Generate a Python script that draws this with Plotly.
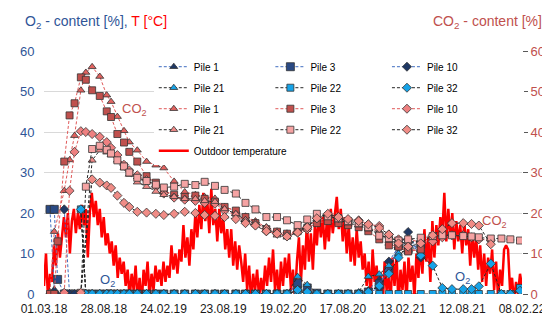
import plotly.graph_objects as go
import pandas as pd

N = None

# ---------------- data ----------------
sample_dates = [
    "2018-03-19", "2018-04-01", "2018-04-11", "2018-05-01", "2018-05-17", "2018-06-01", "2018-06-20", "2018-07-05", "2018-07-24", "2018-08-16",
    "2018-09-06", "2018-09-19", "2018-10-08", "2018-10-28", "2018-11-13", "2018-12-07", "2019-01-04", "2019-02-01", "2019-02-25", "2019-03-28",
    "2019-04-29", "2019-05-31", "2019-06-28", "2019-07-29", "2019-08-27", "2019-09-30", "2019-10-29", "2019-11-28", "2019-12-31", "2020-02-01",
    "2020-03-02", "2020-04-03", "2020-05-02", "2020-05-31", "2020-07-03", "2020-08-04", "2020-09-02", "2020-10-04", "2020-11-02", "2020-12-05",
    "2021-01-03", "2021-02-01", "2021-03-02", "2021-04-09", "2021-05-15", "2021-06-13", "2021-07-12", "2021-08-15", "2021-09-09", "2021-10-01",
    "2021-11-06", "2021-12-08", "2022-01-04", "2022-02-02",
]

o2_pile1 = [20.9, 1.1, 0, 0, 0, 0, 0, 0, 0, 0,
            0, 0, 0, 0, 0, 0, 0, 0, 0, 0,
            0, 0, 0, 0, 0, 0, 0, 0, 0, 0,
            0, 2.0, 0.8, 0, 0, 0, 0, 0.3, 1.0, 3.6,
            6.5, 11.5, 13.0, 10.0, N, N, N, N, N, N,
            N, N, N, N]
o2_pile3 = [20.9, 20.9, 3.6, 0, 0, 0, 0, 0, 0, 0,
            0, 0, 0, 0, 0, 0, 0, 0, 0, 0,
            0, 0, 0, 0, 0, 0, 0, 0, 0, 0,
            0, 2.7, 1.5, 0.2, 0, 0, 0, 0, 0.5, 2.5,
            5.8, 12.0, 11.0, 12.3, N, N, N, N, N, N,
            N, N, N, N]
o2_pile10 = [N, N, N, 20.9, 0, 0, 0, 0, 0, 0,
             0, 0, 0, 0, 0, 0, 0, 0, 0, 0,
             0, 0, 0, 0, 0, 0, 0, 0, 0, 0,
             0, 1.0, 0.5, 0, 0, 0, 0, 0, 0.3, 1.5,
             8.0, 11.5, 15.3, 9.0, N, N, N, N, N, N,
             N, N, N, N]
o2_pile21 = [N, N, N, N, N, N, 20.9, 0, 0, 0,
             0, 0, 0, 0, 0, 0, 0, 0, 0, 0,
             0, 0, 0, 0, 0, 0, 0, 0, 0, 0,
             0, 4.3, 2.3, 0.3, 0, 0, 0, 0.5, 4.3, 4.9,
             7.0, 10.0, 11.0, 10.5, N, N, N, N, N, N,
             N, N, N, N]
o2_pile22 = [N, N, N, N, N, N, 20.9, 0, 0, 0,
             0, 0, 0, 0, 0, 0, 0, 0, 0, 0,
             0, 0, 0, 0, 0, 0, 0, 0, 0, 0,
             0, 0.8, 0, 0, 0, 0, 0, 0, 0, 0,
             0, 0, 0, 0, 0, 0, 0, 0, 0, 0,
             0, 0, 0, 1.5]
o2_pile32 = [N, N, N, N, N, N, 20.9, 0, 0, 0,
             0, 0, 0, 0, 0, 0, 0, 0, 0, 0,
             0, 0, 0, 0, 0, 0, 0, 0, 0, 0,
             0, 1.0, 0.5, 0, 0, 0, 0, 0, 0.5, 2.0,
             5.0, 9.0, 12.7, 9.5, 7.0, 1.5, 1.2, 1.2, 1.2, 1.9,
             7.5, 0, 0, 0.8]

co2_pile1 = [0.5, 15.4, N, 25.5, 33.1, 39.1, 50.3, 54.7, 56.1, 53.7,
             49.1, 47.5, 43.8, 40.3, 37.5, 35.5, 32.7, 31.8, 31.1, 27.8,
             25.2, 24.5, 24.0, 23.6, 21.5, 20.5, 19.2, 18.0, 16.5, 15.5,
             15.0, 15.8, 17.0, 18.0, 18.7, 18.0, 17.5, 17.0, 16.3, 15.5,
             12.5, 11.5, 10.8, 11.0, N, N, N, N, N, N,
             N, N, N, N]
co2_pile3 = [0, 0, 13.0, 32.7, 44.1, 47.1, 53.5, 52.9, 50.3, 48.9,
             45.1, 43.7, 39.5, 37.4, 35.1, 32.7, 29.1, 27.5, 25.5, 24.5,
             24.0, 24.3, 23.5, 22.8, 21.5, 20.6, 19.0, 17.5, 16.0, 15.4,
             14.9, 15.5, 16.3, 17.5, 18.0, 17.5, 17.0, 16.5, 15.5, 13.5,
             12.0, 11.7, 10.5, 11.0, N, N, N, N, N, N,
             N, N, N, N]
co2_pile10 = [N, N, N, 0.3, 25.5, 35.1, 40.2, 40.0, 39.5, 38.8,
              37.5, 36.1, 34.3, 31.9, 30.5, 29.3, 28.1, 26.5, 24.8, 23.8,
              23.3, 23.0, 22.5, 22.3, 20.6, 19.5, 18.0, 17.0, 15.5, 14.9,
              14.5, 15.2, 16.0, 18.7, 19.5, 18.7, 18.3, 18.2, 17.2, 16.8,
              14.7, 13.5, 13.5, 12.8, 13.0, 14.0, 14.5, 14.5, 14.0, 13.5,
              13.3, N, N, N]
co2_pile21 = [N, N, N, N, N, N, 0.3, N, 33.0, 35.5,
              35.0, 34.3, 33.0, 31.1, 29.5, 27.6, 26.5, 25.3, 24.5, 24.0,
              23.5, 23.5, 23.0, 22.8, 21.0, 19.8, 18.3, 17.5, 16.5, 14.5,
              14.0, 15.5, 16.8, 18.5, 19.5, 18.3, 17.5, 17.0, 16.0, 15.3,
              13.2, 12.5, 12.8, 13.0, N, N, N, N, N, N,
              N, N, N, N]
co2_pile22 = [N, N, N, N, N, N, 0.3, 26.5, 35.8, 36.6,
              35.6, 34.7, 33.0, 31.5, 30.0, 28.7, 27.9, 27.0, 26.3, 26.5,
              27.2, 26.9, 27.7, 26.7, 25.7, 24.8, 22.5, 20.9, 19.0, 19.0,
              18.2, 17.0, 18.4, 19.8, 19.2, 18.7, 18.0, 17.5, 16.5, 14.4,
              13.8, 13.2, 13.5, 13.9, 14.3, 14.5, 14.5, 14.3, 14.2, 14.0,
              13.7, 13.7, 13.5, 13.2]
co2_pile32 = [N, N, N, N, N, N, 0.3, N, 28.3, 27.5,
              26.8, 26.2, 24.3, 22.5, 21.5, 20.3, 20.1, 19.8, 19.5, 19.8,
              20.3, 20.0, 19.5, 19.3, 19.0, 18.5, 17.5, 16.9, 15.5, 14.9,
              14.2, 15.2, 16.5, 18.7, 19.8, 19.0, 18.5, 18.0, 17.2, 16.3,
              14.7, 12.5, 11.7, 12.5, 14.5, 16.0, 17.5, 17.5, 17.3, 16.9,
              12.3, N, N, N]

# outdoor temperature, one value every 6 days from 01.03.2018
temperature_start = "2018-03-01"
temperature_step = "6D"
temperature_values = [
    2, 10, -1, 5, 3, 12, 7, 15, 9, 14,
    19, 14, 20, 10, 18, 21, 15, 20, 16, 22,
    17, 21, 9, 20, 25, 19, 23, 17, 21, 14,
    19, 12, 15, 10, 13, 7, 12, 4, 9, 5,
    8, 2, 6, -1, 5, 1, 7, -2, 4, -3,
    6, 2, 8, -1, 5, 1, 7, 3, 6, 2,
    8, 3, 7, 4, 12, 6, 10, 5, 11, 8,
    17, 9, 14, 7, 16, 11, 20, 14, 22, 16,
    25, 18, 23, 15, 26, 17, 21, 13, 21, 15,
    19, 11, 16, 9, 16, 7, 13, 6, 12, 8,
    3, 10, 1, 7, -2, 5, 1, 6, -1, 4,
    0, 7, 2, 9, 3, 11, 1, 6, -1, 8,
    2, 9, 4, 10, 1, 6, -1, 8, 14, 3,
    12, 6, 18, 8, 15, 6, 17, 12, 20, 14,
    19, 11, 18, 13, 21, 15, 19, 24, 16, 21,
    13, 19, 10, 17, 8, 14, 7, 16, 9, 13,
    6, 10, 2, 8, -1, 11, 3, 7, 0, 5,
    -4, 8, 1, 4, -2, 9, 2, 10, -3, 6,
    1, 8, -2, 9, 3, 7, -1, 10, 4, 12,
    5, 16, 8, 14, 3, 18, 9, 17, 12, 19,
    15, 25, 13, 21, 14, 20, 11, 18, 13, 17,
    10, 18, 12, 16, 7, 15, 9, 14, 6, 12,
    3, 10, 2, 9, 5, 11, 1, 8, -1, 6,
    2, 11, 12, 11, 1, 4, -2, 3, 0, 5,
    2,
]

x_range = ["2018-03-01", "2022-02-08"]
x_tick_start = "2018-03-01"
x_tick_step_days = 180
y_range = [0, 60]

for _s in (o2_pile1, o2_pile3, o2_pile10, o2_pile21, o2_pile22, o2_pile32,
           co2_pile1, co2_pile3, co2_pile10, co2_pile21, co2_pile22, co2_pile32):
    assert len(_s) == len(sample_dates), len(_s)

temperature_dates = pd.date_range(temperature_start, periods=len(temperature_values), freq=temperature_step)

# ---------------- styles ----------------
FONT = "Liberation Sans, Arial, sans-serif"
BLUE_TXT = "#2F5597"
CO2_TXT = "#C0504D"
NAVY = "#1F3864"
NAVY_SQ = "#2A4A84"
LIGHT_BLUE = "#16A3E8"
BLUE_LINE = "#3F6DC0"
RED_LINE = "#E05858"
BLACK_LINE = "#262626"
OUTLINE = "#333333"
DASH = "3px,2px"

PAD2 = "\u00a0" * 15
PAD3 = "\u00a0" * 22

# legend order inside each legend follows this order
series = [
    # name, values, axis, symbol, fill, line colour, legend, size
    ("Pile 1", o2_pile1, "y", "triangle-up", NAVY, BLUE_LINE, "legend", 7),
    ("Pile 3" + PAD2, o2_pile3, "y", "square", NAVY_SQ, BLUE_LINE, "legend2", 8),
    ("Pile 10" + PAD3, o2_pile10, "y", "diamond", NAVY, BLUE_LINE, "legend3", 7),
    ("Pile 21", o2_pile21, "y", "triangle-up", LIGHT_BLUE, BLACK_LINE, "legend", 7),
    ("Pile 22" + PAD2, o2_pile22, "y", "square", LIGHT_BLUE, BLACK_LINE, "legend2", 7),
    ("Pile 32" + PAD3, o2_pile32, "y", "diamond", LIGHT_BLUE, BLACK_LINE, "legend3", 7),
    ("Pile 1", co2_pile1, "y2", "triangle-up", "#E2625F", RED_LINE, "legend", 7),
    ("Pile 3" + PAD2, co2_pile3, "y2", "square", "#C0504D", RED_LINE, "legend2", 7),
    ("Pile 10" + PAD3, co2_pile10, "y2", "diamond", "#EE8080", RED_LINE, "legend3", 7),
    ("Pile 21", co2_pile21, "y2", "triangle-up", "#F08A88", BLACK_LINE, "legend", 7),
    ("Pile 22" + PAD2, co2_pile22, "y2", "square", "#F5A3A3", BLACK_LINE, "legend2", 7),
    ("Pile 32" + PAD3, co2_pile32, "y2", "diamond", "#F08C86", BLACK_LINE, "legend3", 7),
]

fig = go.Figure()

for i, (name, vals, ax, sym, fill, lcol, leg, size) in enumerate(series):
    fig.add_trace(go.Scatter(
        x=sample_dates, y=vals, name=name, yaxis=ax,
        mode="lines+markers", connectgaps=True, cliponaxis=False,
        line=dict(color=lcol, width=1, dash=DASH),
        marker=dict(symbol=sym, size=size, color=fill, line=dict(color=OUTLINE, width=0.8)),
        legend=leg, legendgroup=f"g{i}",
    ))

fig.add_trace(go.Scatter(
    x=temperature_dates, y=temperature_values, name="Outdoor temperature",
    mode="lines", line=dict(color="#FF0000", width=2.5),
    legend="legend", legendgroup="temp", cliponaxis=True, zorder=-1,
))

legend_common = dict(y=0.995, xanchor="left", yanchor="top", bgcolor="white",
                     borderwidth=0, font=dict(family=FONT, size=10, color="#000"),
                     tracegroupgap=2, orientation="v")

fig.update_layout(
    width=550, height=320,
    margin=dict(l=30, r=28, t=43, b=27),
    paper_bgcolor="white", plot_bgcolor="white",
    font=dict(family=FONT, size=12, color="#000"),
    showlegend=True,
    legend=dict(x=0.2297, **legend_common),
    legend2=dict(x=0.4736, **legend_common),
    legend3=dict(x=0.7175, **legend_common),
    xaxis=dict(
        type="date", range=x_range, tick0=x_tick_start, dtick=x_tick_step_days * 86400000,
        tickformat="%d.%m.%y", showgrid=False, zeroline=False,
        showline=True, mirror=True, linecolor="#595959", linewidth=1,
        ticks="", ticklabelstandoff=4, tickfont=dict(family=FONT, size=12, color="#1a1a1a"),
    ),
    yaxis=dict(
        range=y_range, dtick=10, showgrid=True, gridcolor="#D9D9D9", gridwidth=1,
        zeroline=False, showline=True, mirror=True, linecolor="#595959", linewidth=1,
        ticks="", ticklabelstandoff=6, tickfont=dict(family=FONT, size=13, color=BLUE_TXT),
    ),
    yaxis2=dict(
        range=y_range, dtick=10, overlaying="y", side="right", showgrid=False,
        zeroline=False, showline=False, ticks="outside", ticklen=5, tickcolor="#595959",
        tickfont=dict(family=FONT, size=13, color=CO2_TXT),
    ),
    annotations=[
        dict(xref="paper", yref="paper", x=-0.043, y=1.12, xanchor="left", yanchor="middle",
             text="O<sub>2</sub> - content [%], <span style='color:#FF0000'>T [°C]</span>",
             font=dict(family=FONT, size=14, color=BLUE_TXT), showarrow=False),
        dict(xref="paper", yref="paper", x=1.047, y=1.12, xanchor="right", yanchor="middle",
             text="CO<sub>2</sub> - content [%]",
             font=dict(family=FONT, size=14, color=CO2_TXT), showarrow=False),
        dict(xref="paper", yref="paper", x=0.132, y=0.056, xanchor="center", yanchor="middle",
             text="O<sub>2</sub>", font=dict(family=FONT, size=13, color=BLUE_TXT), showarrow=False),
        dict(xref="paper", yref="paper", x=0.876, y=0.068, xanchor="center", yanchor="middle",
             text="O<sub>2</sub>", font=dict(family=FONT, size=13, color=BLUE_TXT), showarrow=False),
        dict(xref="paper", yref="paper", x=0.189, y=0.76, xanchor="center", yanchor="middle",
             text="CO<sub>2</sub>", font=dict(family=FONT, size=13, color=CO2_TXT), showarrow=False),
        dict(xref="paper", yref="paper", x=0.943, y=0.30, xanchor="center", yanchor="middle",
             text="CO<sub>2</sub>", font=dict(family=FONT, size=13, color=CO2_TXT), showarrow=False),
    ],
)

fig.write_html("out.html")
